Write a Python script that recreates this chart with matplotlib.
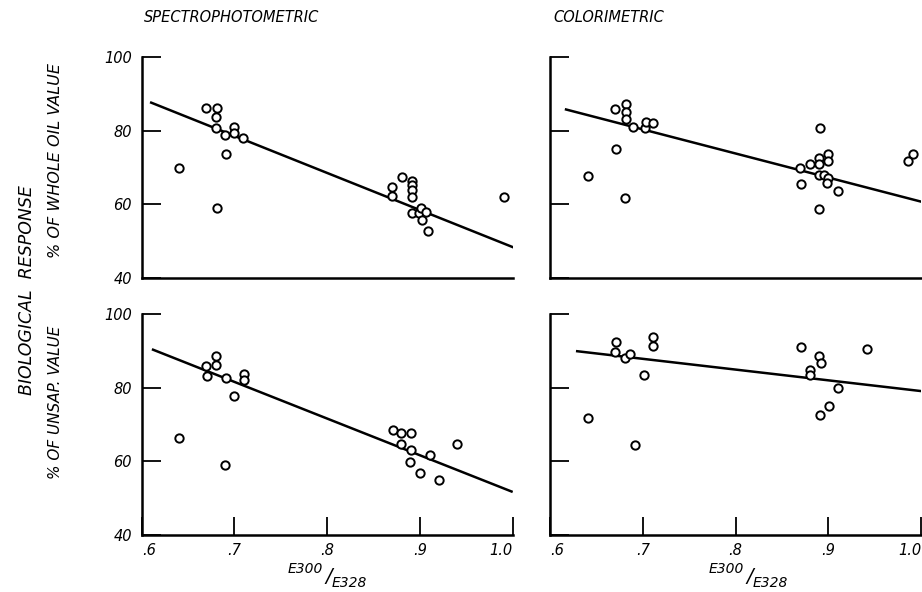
import matplotlib
matplotlib.use("Agg")
from matplotlib import pyplot as plt

# ---- data ----
# top left: spectrophotometric, % of whole oil value
spec_oil_x = [0.640, 0.669, 0.681, 0.680, 0.680, 0.690, 0.699, 0.700, 0.709, 0.691, 0.681,
              0.881, 0.870, 0.870, 0.891, 0.891, 0.891, 0.891, 0.891, 0.899, 0.901, 0.907,
              0.902, 0.909, 0.991]
spec_oil_y = [69.9, 86.1, 86.1, 83.7, 80.9, 79.0, 81.0, 79.4, 78.0, 73.8, 59.1,
              67.5, 64.8, 62.4, 66.4, 65.3, 63.9, 62.1, 57.6, 57.6, 59.1, 58.0,
              55.8, 52.8, 61.9]
spec_oil_fit_x = [0.609, 1.001]
spec_oil_fit_y = [87.8, 48.3]

# top right: colorimetric, % of whole oil value
col_oil_x = [0.641, 0.671, 0.681, 0.670, 0.682, 0.682, 0.682, 0.690, 0.702, 0.703, 0.711,
             0.891, 0.870, 0.880, 0.890, 0.890, 0.900, 0.900, 0.890, 0.895, 0.900, 0.899,
             0.871, 0.910, 0.890, 0.991, 0.986]
col_oil_y = [67.7, 75.0, 61.8, 85.9, 87.4, 85.2, 83.1, 81.0, 80.8, 82.4, 82.1,
             80.8, 69.8, 71.0, 72.5, 70.9, 73.7, 71.7, 68.0, 68.0, 67.3, 65.7,
             65.6, 63.6, 58.7, 73.7, 71.7]
col_oil_fit_x = [0.616, 1.001]
col_oil_fit_y = [85.9, 60.7]

# bottom left: spectrophotometric, % of unsap. value
spec_uns_x = [0.640, 0.690, 0.669, 0.680, 0.680, 0.670, 0.691, 0.710, 0.710, 0.700,
              0.871, 0.880, 0.890, 0.880, 0.890, 0.889, 0.911, 0.900, 0.921, 0.940]
spec_uns_y = [66.3, 58.9, 86.0, 88.7, 86.1, 83.2, 82.6, 83.9, 82.1, 77.9,
              68.5, 67.6, 67.6, 64.7, 63.0, 59.8, 61.7, 56.8, 54.9, 64.7]
spec_uns_fit_x = [0.611, 1.000]
spec_uns_fit_y = [90.5, 51.7]

# bottom right: colorimetric, % of unsap. value
col_uns_x = [0.641, 0.692, 0.671, 0.670, 0.681, 0.686, 0.701, 0.711, 0.711,
             0.871, 0.890, 0.892, 0.880, 0.880, 0.910, 0.901, 0.891, 0.942]
col_uns_y = [71.9, 64.5, 92.6, 89.8, 88.0, 89.2, 83.6, 93.7, 91.5,
             91.1, 88.7, 86.7, 84.9, 83.5, 80.0, 75.1, 72.5, 90.6]
col_uns_fit_x = [0.628, 1.001]
col_uns_fit_y = [90.0, 79.1]

x_ticks = [0.6, 0.7, 0.8, 0.9, 1.0]
x_tick_labels = [".6", ".7", ".8", ".9", "1.0"]
y_ticks = [40, 60, 80, 100]
y_tick_labels = ["40", "60", "80", "100"]

FONT = dict(family="DejaVu Sans", style="italic")

fig = plt.figure(figsize=(9.22, 5.92), dpi=100, facecolor="white")

W, H = 922.0, 592.0
ax_w = 371 / W
ax_h = 220.7 / H
lefts = [141.7 / W, 550 / W]
bottoms = [1 - 278 / H, 1 - 535 / H]

panels = [
    (0, 0, spec_oil_x, spec_oil_y, spec_oil_fit_x, spec_oil_fit_y),
    (0, 1, col_oil_x, col_oil_y, col_oil_fit_x, col_oil_fit_y),
    (1, 0, spec_uns_x, spec_uns_y, spec_uns_fit_x, spec_uns_fit_y),
    (1, 1, col_uns_x, col_uns_y, col_uns_fit_x, col_uns_fit_y),
]

for row, col, xs, ys, fx, fy in panels:
    ax = fig.add_axes([lefts[col], bottoms[row], ax_w, ax_h])
    ax.plot(fx, fy, color="black", lw=1.8, solid_capstyle="butt")
    ax.plot(xs, ys, "o", ms=6, mfc="white", mec="black", mew=1.4, clip_on=False)
    ax.set_xlim(0.6, 1.0)
    ax.set_ylim(40, 100)
    for s in ["top", "right"]:
        ax.spines[s].set_visible(False)
    for s in ["left", "bottom"]:
        ax.spines[s].set_linewidth(1.8)
    ax.set_yticks(y_ticks)
    ax.tick_params(axis="y", direction="in", length=14, width=1.3, pad=7)
    if col == 0:
        ax.set_yticklabels(y_tick_labels, fontsize=10.5, **FONT)
    else:
        ax.set_yticklabels([])
    if row == 1:
        ax.set_xticks(x_ticks)
        ax.set_xticklabels(x_tick_labels, fontsize=10.5, **FONT)
        ax.tick_params(axis="x", direction="in", length=13, width=1.3, pad=6)
        labs = ax.get_xticklabels()
        labs[0].set_ha("left")
        labs[-1].set_ha("right")
    else:
        ax.set_xticks([])

# column headings
fig.text(144 / W, 1 - 18 / H, "SPECTROPHOTOMETRIC", fontsize=10.5, ha="left", va="center", **FONT)
fig.text(553 / W, 1 - 18 / H, "COLORIMETRIC", fontsize=10.5, ha="left", va="center", **FONT)

# x labels E300/E328
for x0 in [288, 709]:
    fig.text(x0 / W, 1 - 569 / H, "E300", fontsize=10, ha="left", va="center", **FONT)
    fig.text((x0 + 37) / W, 1 - 576 / H, "/", fontsize=14, ha="left", va="center", **FONT)
    fig.text((x0 + 44) / W, 1 - 583 / H, "E328", fontsize=10, ha="left", va="center", **FONT)

# y labels
fig.text(27 / W, 1 - 290 / H, "BIOLOGICAL  RESPONSE", fontsize=12.5, rotation=90,
         ha="center", va="center", **FONT)
fig.text(55 / W, 1 - 160 / H, "% OF WHOLE OIL VALUE", fontsize=11.5, rotation=90,
         ha="center", va="center", **FONT)
fig.text(55 / W, 1 - 402 / H, "% OF UNSAP. VALUE", fontsize=11, rotation=90,
         ha="center", va="center", **FONT)

fig.savefig("out.png", dpi=100, facecolor="white")
